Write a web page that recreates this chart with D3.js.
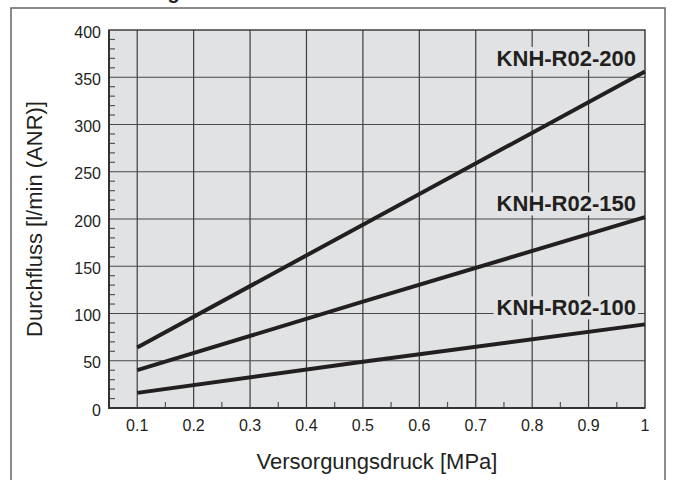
<!DOCTYPE html>
<html>
<head>
<meta charset="utf-8">
<script src="https://cdn.jsdelivr.net/npm/d3@7"></script>
<style>
  body { margin: 0; background: #fff; }
  text { font-family: "Liberation Sans", Arial, sans-serif; fill: #231f20; }
</style>
</head>
<body>
<script>
// chart data
var pressure = [0.1, 0.5, 1];              // Versorgungsdruck [MPa]
var flow200 = [64, 194, 356];              // KNH-R02-200
var flow150 = [40, 112.5, 202];            // KNH-R02-150
var flow100 = [16, 49, 88.5];              // KNH-R02-100
var seriesNames = ["KNH-R02-200", "KNH-R02-150", "KNH-R02-100"];
var labelValues = [362, 208, 98];          // y value where each name sits
var xTicks = [0.1, 0.2, 0.3, 0.4, 0.5, 0.6, 0.7, 0.8, 0.9, 1];
var xMinor = [0.15, 0.25, 0.35, 0.45, 0.55, 0.65, 0.75, 0.85, 0.95];
var yTicks = [0, 50, 100, 150, 200, 250, 300, 350, 400];

var width = 674,
    height = 480;

var svg = d3.select("body")
    .append("svg")
    .attr("width", width)
    .attr("height", height);

// plot frame (pixel edges)
var plotLeft = 109, plotRight = 645, plotTop = 30, plotBottom = 408;

var x = d3.scaleLinear().domain([0.05, 1]).range([plotLeft, plotRight]);
var y = d3.scaleLinear().domain([0, 400]).range([plotBottom, plotTop]);

// title, mostly cut off at the top
svg.append("text")
    .attr("x", 22)
    .attr("y", -1.5)
    .style("font-size", "20px")
    .style("font-weight", "bold")
    .text("Durchflussmenge");

// outer frame
svg.append("rect")
    .attr("x", 11)
    .attr("y", 8)
    .attr("width", 654)
    .attr("height", 500)
    .attr("fill", "none")
    .attr("stroke", "#666")
    .attr("stroke-width", 1.5);

// plot background
svg.append("rect")
    .attr("x", plotLeft)
    .attr("y", plotTop)
    .attr("width", plotRight - plotLeft)
    .attr("height", plotBottom - plotTop)
    .attr("fill", "#e1e2e3");

// grid lines
svg.append("g")
    .selectAll("line")
    .data(xTicks.slice(0, -1))
    .enter()
    .append("line")
    .attr("x1", function(d){ return x(d); })
    .attr("x2", function(d){ return x(d); })
    .attr("y1", plotTop)
    .attr("y2", plotBottom)
    .attr("stroke", "#3d3d3d")
    .attr("stroke-width", 1.2);

svg.append("g")
    .selectAll("line")
    .data(yTicks.slice(1, -1))
    .enter()
    .append("line")
    .attr("x1", plotLeft)
    .attr("x2", plotRight)
    .attr("y1", function(d){ return y(d); })
    .attr("y2", function(d){ return y(d); })
    .attr("stroke", "#474747")
    .attr("stroke-width", 1.2);

// minor ticks
var yMinor = d3.range(10, 400, 10).filter(function(d){ return d % 50 !== 0; });
svg.append("g")
    .selectAll("line")
    .data(yMinor)
    .enter()
    .append("line")
    .attr("x1", plotLeft)
    .attr("x2", plotLeft + 6)
    .attr("y1", function(d){ return y(d); })
    .attr("y2", function(d){ return y(d); })
    .attr("stroke", "#555")
    .attr("stroke-width", 1.2);

svg.append("g")
    .selectAll("line")
    .data(xMinor)
    .enter()
    .append("line")
    .attr("x1", function(d){ return x(d); })
    .attr("x2", function(d){ return x(d); })
    .attr("y1", plotBottom)
    .attr("y2", plotBottom - 6)
    .attr("stroke", "#555")
    .attr("stroke-width", 1.2);

// plot border
svg.append("rect")
    .attr("x", plotLeft)
    .attr("y", plotTop)
    .attr("width", plotRight - plotLeft)
    .attr("height", plotBottom - plotTop)
    .attr("fill", "none")
    .attr("stroke", "#333")
    .attr("stroke-width", 1.4);

svg.append("path")
    .attr("d", "M" + plotLeft + "," + plotTop + "V" + plotBottom + "H" + plotRight)
    .attr("fill", "none")
    .attr("stroke", "#333")
    .attr("stroke-width", 2);

// series names with background boxes
var labels = svg.append("g");
seriesNames.forEach(function(name, i){
    var t = labels.append("text")
        .attr("x", 636)
        .attr("y", y(labelValues[i]))
        .attr("text-anchor", "end")
        .style("font-size", "22px")
        .style("font-weight", "bold")
        .text(name);
    var bb = t.node().getBBox();
    labels.insert("rect", "text")
        .attr("x", bb.x - 3)
        .attr("y", bb.y + 1)
        .attr("width", bb.width + 5)
        .attr("height", bb.height - 2)
        .attr("fill", "#e1e2e3");
});

// flow lines
var line = d3.line()
    .x(function(d){ return x(d[0]); })
    .y(function(d){ return y(d[1]); });

[flow200, flow150, flow100].forEach(function(vals){
    svg.append("path")
        .datum(pressure.map(function(p, i){ return [p, vals[i]]; }))
        .attr("d", line)
        .attr("fill", "none")
        .attr("stroke", "#231f20")
        .attr("stroke-width", 4);
});

// tick labels
svg.append("g")
    .selectAll("text")
    .data(yTicks)
    .enter()
    .append("text")
    .attr("x", 101)
    .attr("y", function(d){ return y(d) + 7.5; })
    .attr("text-anchor", "end")
    .style("font-size", "16px")
    .text(function(d){ return d; });

svg.append("g")
    .selectAll("text")
    .data(xTicks)
    .enter()
    .append("text")
    .attr("x", function(d){ return x(d); })
    .attr("y", 431)
    .attr("text-anchor", "middle")
    .style("font-size", "16px")
    .text(function(d){ return d === 1 ? "1" : d3.format(".1f")(d); });

// axis titles
svg.append("text")
    .attr("x", (plotLeft + plotRight) / 2)
    .attr("y", 469)
    .attr("text-anchor", "middle")
    .style("font-size", "22px")
    .text("Versorgungsdruck [MPa]");

svg.append("text")
    .attr("transform", "translate(42," + ((plotTop + plotBottom) / 2) + ") rotate(-90)")
    .attr("text-anchor", "middle")
    .style("font-size", "22px")
    .text("Durchfluss [l/min (ANR)]");
</script>
</body>
</html>
